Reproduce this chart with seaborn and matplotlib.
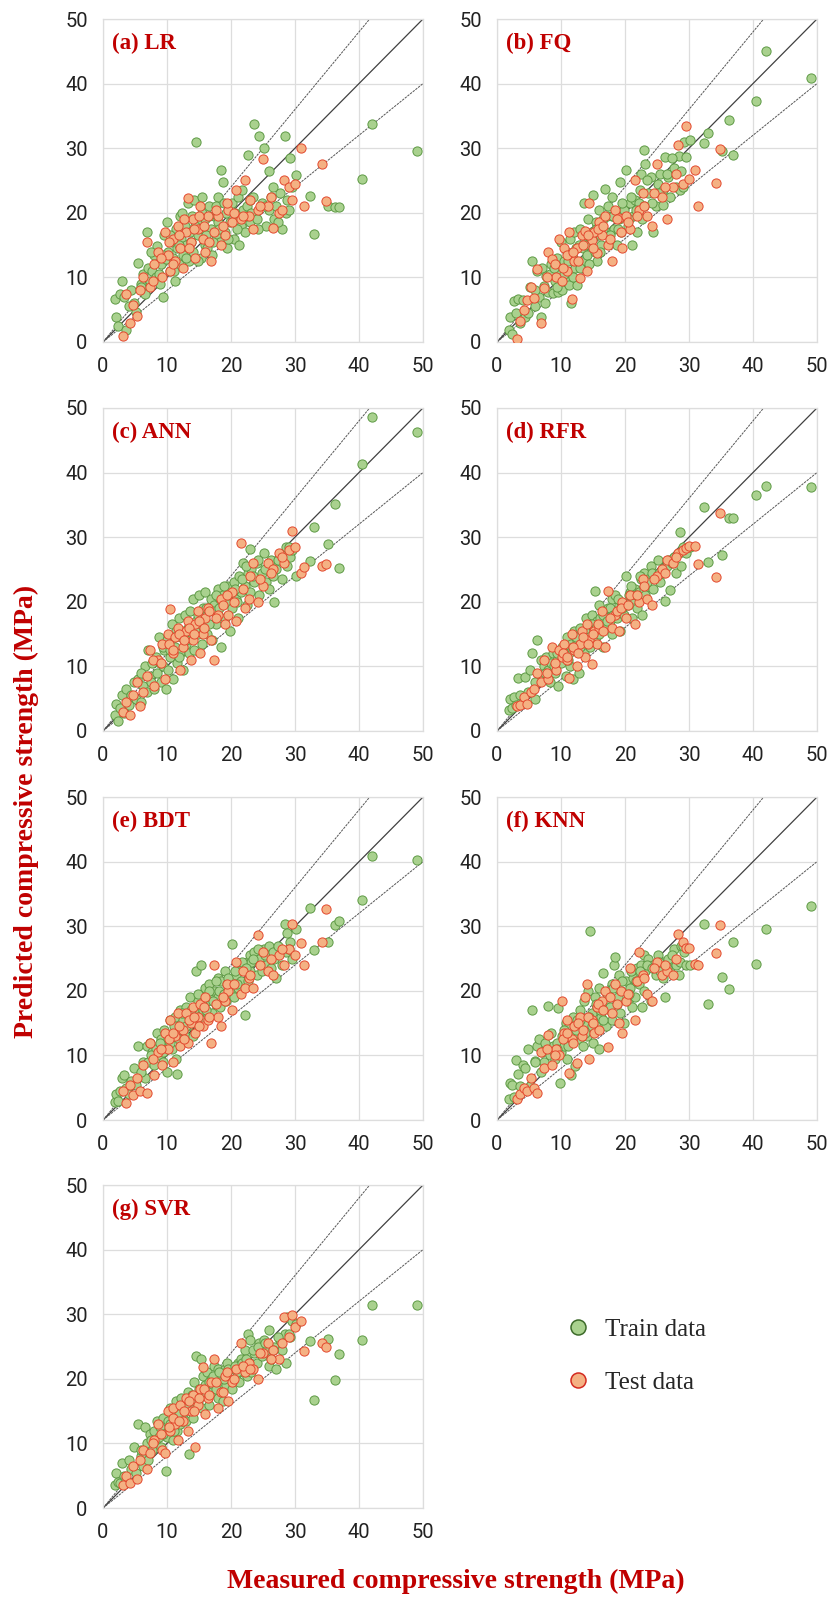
import numpy as np
import pandas as pd
import matplotlib
matplotlib.use("Agg")
import matplotlib.pyplot as plt
from matplotlib.lines import Line2D
import seaborn as sns

# Measured strength (same samples in every panel)
train_measured = [
    1.8, 2.0, 2.3, 2.7, 3.0, 3.3, 3.6, 4.0, 4.4, 4.8,
    5.2, 5.5, 5.9, 6.2, 6.6, 6.9, 7.0, 7.3, 7.7, 8.0,
    8.3, 8.5, 8.7, 9.0, 9.3, 9.6, 9.9, 10.0, 10.2, 10.5,
    10.8, 11.0, 11.3, 11.4, 11.6, 11.9, 12.0, 12.2, 12.5, 12.8,
    13.0, 13.3, 13.4, 13.6, 13.9, 14.0, 14.2, 14.5, 14.8, 15.0,
    15.3, 15.5, 15.6, 15.9, 16.0, 16.2, 16.5, 16.8, 17.1, 17.4,
    17.7, 17.9, 18.0, 18.3, 18.5, 18.7, 19.0, 19.2, 19.4, 19.8,
    20.1, 20.4, 20.8, 21.1, 21.3, 21.5, 21.8, 22.2, 22.5, 22.7,
    22.9, 23.0, 23.2, 23.6, 24.0, 24.4, 24.8, 25.1, 25.5, 25.9,
    26.0, 26.3, 26.7, 27.1, 27.6, 28.0, 28.4, 28.6, 28.8, 29.2,
    29.6, 30.1, 32.4, 33.0, 35.1, 36.3, 36.9, 40.4, 42.1, 49.0,
    6.0, 7.5, 8.9, 9.4, 10.4, 11.1, 11.8, 12.4, 12.9, 13.7,
    14.3, 14.9, 15.4, 16.1, 16.6, 17.2, 17.6, 18.2, 18.9, 19.6,
    20.6, 21.0, 21.7, 22.4, 23.4, 24.2, 25.3, 26.5, 27.4, 29.0,
]
test_measured = [
    3.2, 3.6, 4.2, 4.7, 5.3, 5.8, 6.3, 6.8, 7.4, 8.0,
    8.6, 9.2, 9.7, 10.1, 10.5, 10.9, 11.3, 11.7, 12.1, 12.5,
    12.9, 13.3, 13.7, 14.1, 14.4, 14.8, 15.2, 15.6, 16.0, 16.4,
    16.9, 17.4, 17.9, 18.4, 19.0, 19.6, 20.2, 20.8, 21.5, 22.2,
    22.8, 23.5, 24.2, 25.0, 25.8, 26.6, 27.5, 28.3, 29.0, 29.5,
    30.0, 31.0, 31.4, 34.2, 34.9,
    7.8, 9.0, 10.3, 11.0, 11.9, 12.7, 13.5, 14.2, 15.0, 15.8,
    16.6, 17.6, 18.7, 19.3, 20.5, 21.8, 23.0, 24.6, 26.2, 27.9,
]

# Predicted strength per model
lr_train = [
    6.6, 3.8, 2.5, 7.5, 9.5, 7.0, 1.8, 5.6, 8.0, 6.0,
    4.7, 12.3, 9.0, 10.5, 7.5, 17.0, 11.5, 9.5, 11.0, 13.5,
    10.0, 14.8, 10.5, 12.0, 7.0, 16.5, 12.8, 18.5, 14.0, 11.0,
    15.5, 13.0, 9.5, 17.5, 14.5, 12.0, 19.5, 16.0, 13.5, 18.0,
    15.0, 21.5, 12.5, 17.0, 19.5, 14.0, 22.0, 30.9, 16.5, 18.5,
    13.0, 20.0, 17.5, 15.0, 19.0, 14.5, 21.0, 17.5, 13.5, 19.5,
    16.5, 22.5, 18.5, 15.5, 26.6, 24.7, 17.0, 20.0, 14.5, 18.5,
    21.5, 16.0, 19.5, 22.5, 15.0, 18.0, 20.5, 17.0, 21.0, 29.0,
    18.5, 22.0, 20.0, 33.7, 19.0, 31.9, 21.5, 30.1, 18.0, 26.5,
    20.5, 22.5, 19.0, 21.0, 23.0, 17.5, 31.9, 20.0, 22.0, 28.5,
    24.0, 25.9, 22.6, 16.7, 21.0, 20.9, 20.9, 25.2, 33.8, 29.6,
    8.5, 14.0, 9.0, 13.5, 16.5, 11.0, 15.0, 20.0, 13.0, 15.5,
    18.0, 12.5, 22.5, 16.5, 19.5, 15.5, 21.0, 17.5, 21.5, 16.0,
    20.0, 17.5, 23.5, 19.5, 22.5, 17.5, 21.0, 24.0, 18.5, 20.5,
]
lr_test = [
    1.0, 7.5, 3.0, 5.8, 4.0, 8.0, 10.0, 15.5, 8.5, 12.0,
    14.0, 10.0, 17.0, 13.5, 11.0, 16.0, 12.5, 18.0, 14.5, 11.5,
    17.0, 22.3, 15.5, 19.0, 13.0, 17.5, 21.0, 16.0, 14.0, 19.5,
    12.5, 17.0, 19.5, 15.0, 16.5, 20.5, 18.5, 23.5, 19.0, 25.1,
    19.5, 17.5, 20.5, 28.3, 21.0, 17.6, 20.0, 25.0, 24.0, 22.0,
    24.5, 30.0, 21.0, 27.6, 21.8,
    9.5, 13.0, 15.5, 12.0, 16.5, 19.0, 14.5, 17.5, 19.5, 18.0,
    15.5, 20.5, 18.0, 21.5, 20.0, 19.5, 22.0, 21.0, 22.5, 20.5,
]
fq_train = [
    1.9, 3.9, 1.2, 6.3, 4.5, 6.6, 3.0, 6.5, 3.8, 4.5,
    8.5, 12.6, 5.5, 11.0, 7.0, 3.8, 11.5, 8.7, 10.2, 7.8,
    10.5, 12.0, 7.6, 9.5, 13.0, 7.8, 11.0, 15.5, 8.0, 12.5,
    9.5, 14.0, 8.8, 16.0, 6.0, 13.0, 17.0, 11.5, 8.8, 15.0,
    17.5, 12.5, 14.5, 21.5, 16.0, 13.5, 19.0, 15.5, 17.0, 22.7,
    14.0, 18.5, 12.5, 16.5, 20.5, 15.0, 19.0, 23.7, 17.0, 21.0,
    15.5, 19.5, 22.5, 17.5, 20.0, 15.0, 19.0, 24.7, 17.0, 20.5,
    26.6, 18.0, 21.5, 15.0, 19.5, 22.0, 17.0, 21.5, 26.0, 19.0,
    29.7, 21.0, 27.5, 23.0, 25.5, 17.1, 21.0, 24.5, 26.0, 21.2,
    23.5, 28.7, 25.5, 22.5, 27.0, 24.0, 28.8, 23.5, 26.5, 31.0,
    28.7, 31.3, 30.8, 32.3, 29.5, 34.4, 29.0, 37.3, 45.0, 40.8,
    8.0, 6.0, 11.5, 8.5, 10.5, 12.5, 10.0, 14.5, 11.5, 15.0,
    12.0, 16.0, 17.5, 14.0, 17.5, 19.5, 16.5, 19.5, 17.5, 21.5,
    19.0, 22.5, 20.5, 23.5, 25.0, 21.5, 23.0, 26.0, 28.5, 24.0,
]
fq_test = [
    0.4, 3.2, 5.0, 6.5, 8.5, 6.8, 11.3, 2.9, 8.3, 14.0,
    12.8, 10.0, 16.0, 9.5, 14.5, 11.0, 17.0, 6.7, 12.5, 14.5,
    9.9, 16.5, 17.2, 11.0, 21.5, 15.8, 17.0, 13.8, 18.5, 16.5,
    19.5, 15.0, 12.6, 20.5, 19.2, 14.5, 19.5, 17.5, 25.0, 20.5,
    23.0, 19.5, 18.0, 27.5, 22.5, 19.0, 24.0, 30.5, 24.5, 33.5,
    25.2, 26.6, 21.1, 24.6, 29.9,
    10.0, 12.0, 11.5, 13.5, 14.0, 12.5, 15.0, 16.5, 14.5, 17.5,
    18.0, 16.0, 19.0, 17.0, 18.5, 19.5, 21.0, 23.0, 24.0, 26.0,
]
ann_train = [
    2.5, 4.2, 1.5, 3.5, 5.5, 2.8, 6.5, 4.0, 5.5, 7.5,
    5.0, 8.0, 4.5, 7.0, 10.0, 6.0, 12.5, 8.5, 10.5, 6.5,
    11.5, 9.0, 14.5, 7.5, 10.0, 12.5, 6.5, 14.0, 9.5, 11.5,
    16.5, 8.0, 13.0, 15.5, 10.5, 17.5, 12.0, 14.5, 9.5, 18.0,
    13.5, 16.0, 12.0, 18.5, 14.5, 20.5, 12.5, 17.0, 15.0, 21.0,
    16.5, 13.5, 19.0, 17.0, 21.5, 15.0, 18.5, 20.5, 14.0, 19.5,
    16.5, 22.0, 18.0, 20.5, 13.0, 21.0, 17.5, 20.0, 22.5, 15.5,
    19.0, 23.0, 20.5, 17.5, 24.0, 21.5, 26.0, 22.5, 19.5, 24.5,
    28.1, 21.5, 25.0, 23.0, 26.0, 21.0, 24.5, 27.5, 23.0, 25.5,
    22.0, 26.5, 20.0, 25.0, 27.0, 23.5, 27.5, 28.5, 25.5, 27.0,
    28.0, 24.0, 26.3, 31.6, 29.0, 35.1, 25.2, 41.4, 48.6, 46.3,
    9.0, 7.5, 10.5, 13.0, 12.5, 14.5, 11.5, 15.5, 14.0, 16.5,
    15.5, 18.0, 17.5, 19.0, 16.5, 18.5, 21.0, 19.0, 22.5, 21.0,
    22.0, 20.0, 23.5, 25.5, 24.0, 26.5, 25.0, 24.0, 26.5, 28.5,
]
ann_test = [
    3.0, 4.5, 2.5, 5.5, 7.5, 3.8, 6.0, 8.5, 12.5, 7.0,
    11.0, 13.5, 8.0, 15.0, 18.9, 12.0, 14.5, 16.0, 9.5, 13.0,
    15.5, 17.0, 11.0, 14.0, 16.5, 18.5, 12.0, 15.0, 17.5, 19.0,
    14.0, 11.0, 18.0, 20.5, 16.5, 18.0, 21.5, 17.0, 29.1, 19.0,
    20.5, 26.0, 20.0, 22.5, 26.0, 25.0, 27.5, 26.0, 28.0, 30.9,
    28.5, 24.4, 25.4, 25.6, 25.9,
    11.0, 10.5, 13.5, 12.5, 15.0, 14.0, 16.0, 15.0, 17.0, 16.0,
    18.5, 17.5, 19.5, 21.0, 20.0, 22.0, 24.0, 23.5, 24.5, 27.0,
]
rfr_train = [
    3.3, 5.0, 3.5, 5.3, 4.0, 8.2, 5.5, 4.5, 8.3, 6.0,
    9.5, 12.0, 5.0, 14.1, 8.0, 11.0, 8.5, 10.0, 11.5, 9.5,
    7.5, 10.5, 12.0, 9.0, 11.0, 7.0, 12.5, 10.5, 13.0, 11.5,
    8.5, 14.5, 12.0, 10.0, 13.5, 8.0, 15.5, 12.5, 14.0, 9.0,
    16.0, 13.5, 15.0, 12.0, 17.5, 14.0, 16.0, 13.0, 18.0, 15.5,
    21.6, 14.5, 17.0, 19.5, 15.0, 17.5, 13.0, 18.5, 16.5, 19.0,
    17.0, 20.5, 15.0, 18.5, 21.0, 17.5, 19.5, 15.5, 20.0, 18.0,
    24.0, 19.5, 21.5, 17.5, 20.5, 22.0, 19.0, 21.5, 23.5, 18.0,
    22.0, 24.5, 21.0, 23.5, 25.5, 22.0, 24.0, 26.5, 23.0, 25.0,
    24.5, 20.1, 26.5, 21.8, 27.0, 24.5, 27.5, 30.8, 25.5, 28.0,
    27.5, 28.5, 34.7, 26.2, 27.3, 33.0, 32.9, 36.6, 37.9, 37.7,
    7.5, 9.0, 10.0, 12.0, 12.0, 11.0, 13.0, 14.5, 13.0, 15.5,
    14.5, 16.5, 16.0, 17.5, 18.0, 17.0, 19.0, 18.0, 20.5, 19.0,
    21.0, 22.5, 21.0, 24.0, 23.0, 24.5, 24.5, 25.5, 26.0, 28.5,
]
rfr_test = [
    3.8, 4.0, 5.3, 4.2, 6.0, 6.5, 9.0, 7.5, 11.0, 8.0,
    13.0, 9.5, 12.5, 11.5, 13.5, 11.0, 8.2, 15.0, 12.5, 10.0,
    13.5, 15.5, 11.5, 16.5, 14.0, 10.3, 15.5, 13.5, 16.0, 18.5,
    13.0, 21.6, 16.0, 18.0, 15.5, 20.0, 17.5, 21.0, 16.5, 20.0,
    23.5, 20.5, 19.5, 24.0, 25.0, 26.5, 26.0, 27.5, 28.0, 28.3,
    28.6, 28.7, 25.9, 23.8, 33.7,
    9.0, 10.5, 12.0, 11.5, 13.0, 12.0, 14.5, 13.5, 15.0, 16.5,
    15.5, 17.5, 18.5, 19.0, 19.5, 21.0, 22.5, 23.5, 24.5, 27.0,
]
bdt_train = [
    2.8, 4.0, 3.0, 4.5, 6.5, 7.0, 5.0, 4.0, 6.0, 8.0,
    5.5, 11.5, 7.0, 9.0, 6.5, 11.5, 9.0, 12.0, 10.5, 8.5,
    11.0, 13.5, 10.0, 12.5, 9.0, 14.0, 11.0, 7.5, 12.5, 15.5,
    11.0, 13.0, 16.0, 9.5, 7.2, 14.0, 17.0, 12.0, 15.5, 13.0,
    17.5, 14.5, 16.0, 19.0, 15.5, 13.0, 17.0, 23.1, 18.5, 16.0,
    24.0, 19.5, 17.0, 20.5, 15.5, 18.5, 21.0, 19.0, 16.5, 20.0,
    18.0, 22.0, 19.0, 17.5, 21.5, 19.5, 23.0, 18.5, 21.0, 20.0,
    27.3, 19.0, 22.5, 20.5, 24.0, 21.5, 23.5, 16.3, 24.5, 21.5,
    25.5, 23.0, 24.5, 26.0, 22.5, 25.0, 23.0, 26.5, 24.0, 25.5,
    27.0, 23.5, 25.0, 22.0, 26.5, 24.0, 30.3, 26.0, 29.0, 27.5,
    25.0, 29.5, 32.9, 26.4, 27.6, 30.2, 30.8, 34.1, 40.9, 40.2,
    7.5, 10.0, 12.0, 10.5, 12.0, 14.5, 12.5, 16.5, 14.5, 17.0,
    15.0, 19.5, 18.0, 17.0, 20.0, 18.5, 21.5, 20.0, 19.5, 22.0,
    23.0, 21.0, 24.5, 23.5, 25.0, 26.5, 25.5, 26.0, 27.0, 26.5,
]
bdt_test = [
    4.5, 2.7, 5.5, 3.8, 6.5, 4.5, 8.5, 4.2, 12.0, 7.0,
    10.5, 8.5, 13.5, 11.0, 15.5, 9.0, 13.0, 16.5, 11.5, 14.0,
    16.5, 12.0, 15.0, 17.5, 13.5, 16.0, 18.0, 14.5, 19.0, 15.5,
    12.0, 24.0, 16.0, 14.5, 18.5, 20.0, 17.0, 24.5, 19.5, 20.5,
    22.0, 20.5, 28.7, 26.0, 23.0, 22.5, 25.5, 24.0, 26.5, 30.3,
    25.5, 27.4, 24.0, 27.6, 32.7,
    9.5, 11.0, 12.5, 13.5, 14.5, 12.5, 15.5, 16.0, 14.5, 17.5,
    16.0, 18.0, 19.0, 21.0, 21.0, 23.0, 22.5, 24.0, 25.0, 26.5,
]
knn_train = [
    3.3, 5.8, 5.5, 3.5, 9.3, 7.2, 5.3, 8.5, 8.0, 11.0,
    5.2, 17.0, 9.2, 11.5, 12.5, 7.5, 10.5, 9.0, 11.0, 17.6,
    10.0, 13.5, 11.5, 9.5, 12.0, 17.4, 5.8, 10.5, 13.0, 11.5,
    15.0, 9.5, 14.5, 12.0, 7.0, 16.0, 13.5, 8.3, 15.5, 12.5,
    17.0, 14.0, 11.5, 18.5, 15.0, 13.0, 20.0, 29.3, 16.5, 12.0,
    19.0, 14.5, 17.5, 20.5, 11.0, 16.0, 22.7, 18.5, 14.5, 20.0,
    17.0, 21.0, 15.5, 24.0, 25.3, 18.0, 22.5, 16.5, 20.0, 15.0,
    21.5, 18.5, 20.5, 17.5, 22.0, 19.0, 23.5, 21.0, 24.0, 17.5,
    25.5, 20.0, 23.0, 25.0, 18.5, 24.0, 22.5, 25.5, 23.0, 24.5,
    22.0, 19.0, 25.0, 23.5, 26.5, 24.0, 22.5, 24.5, 27.0, 26.0,
    24.0, 24.0, 30.3, 18.0, 22.2, 20.3, 27.5, 24.2, 29.6, 33.1,
    9.0, 12.0, 10.5, 11.0, 14.0, 11.5, 13.0, 14.0, 15.5, 13.5,
    16.0, 14.5, 18.0, 17.0, 15.5, 19.5, 17.5, 20.5, 19.0, 21.5,
    19.5, 23.0, 21.5, 23.0, 24.0, 23.5, 24.5, 23.5, 25.5, 27.0,
]
knn_test = [
    3.3, 4.0, 5.0, 4.5, 6.5, 5.0, 4.2, 10.5, 8.0, 13.2,
    8.5, 11.0, 10.0, 18.5, 13.5, 15.5, 7.3, 12.5, 14.5, 8.8,
    16.0, 13.0, 19.0, 21.1, 9.4, 15.5, 13.5, 17.5, 14.0, 18.5,
    20.0, 11.3, 16.5, 21.0, 15.0, 13.5, 18.5, 23.5, 15.5, 26.0,
    22.5, 19.5, 18.5, 24.5, 22.5, 23.0, 22.5, 28.8, 27.5, 26.7,
    26.7, 24.2, 24.0, 25.8, 30.2,
    11.0, 10.0, 12.5, 13.5, 12.0, 15.0, 14.0, 16.0, 15.0, 18.0,
    17.0, 19.0, 18.0, 20.0, 19.5, 21.5, 22.0, 23.5, 24.0, 25.0,
]
svr_train = [
    3.5, 5.5, 4.0, 3.8, 7.0, 5.0, 4.5, 7.5, 6.0, 9.5,
    5.5, 13.0, 8.0, 6.5, 12.5, 10.0, 7.5, 11.5, 9.0, 12.0,
    10.5, 13.5, 11.0, 9.5, 14.0, 12.0, 5.7, 11.0, 13.5, 15.5,
    12.5, 10.5, 14.5, 16.5, 12.0, 15.0, 13.0, 17.0, 14.5, 16.0,
    13.5, 18.0, 8.3, 15.5, 17.5, 14.0, 19.5, 23.6, 16.5, 18.5,
    23.0, 15.5, 20.5, 17.5, 19.0, 21.0, 16.0, 20.0, 18.0, 22.0,
    19.5, 17.0, 21.5, 18.5, 20.5, 16.5, 21.5, 19.0, 22.5, 20.0,
    18.5, 21.5, 20.0, 22.5, 19.5, 23.0, 21.0, 24.5, 20.5, 27.0,
    22.5, 26.0, 21.0, 24.0, 22.5, 25.5, 23.5, 26.0, 24.5, 22.0,
    27.5, 23.0, 25.0, 21.5, 26.0, 24.5, 27.0, 22.5, 29.5, 26.5,
    29.0, 28.5, 25.9, 16.7, 26.1, 19.8, 23.8, 26.0, 31.5, 31.5,
    9.0, 10.5, 12.5, 11.5, 13.0, 12.0, 14.5, 13.5, 15.5, 17.0,
    16.5, 17.5, 18.0, 17.5, 19.5, 20.5, 18.5, 21.0, 20.0, 21.5,
    22.0, 21.0, 22.5, 23.0, 24.5, 25.0, 25.5, 24.5, 26.5, 27.0,
]
svr_test = [
    3.5, 5.0, 3.8, 6.5, 4.5, 7.5, 9.0, 6.0, 8.5, 10.5,
    13.0, 9.0, 8.5, 15.0, 12.0, 15.5, 13.0, 10.5, 16.0, 13.5,
    17.0, 12.0, 15.0, 17.5, 9.5, 16.0, 18.5, 21.9, 14.5, 17.0,
    19.5, 23.0, 15.5, 18.0, 20.5, 16.5, 19.5, 21.5, 25.5, 21.0,
    22.5, 21.5, 20.0, 24.0, 25.5, 24.5, 23.0, 29.5, 26.5, 29.9,
    28.0, 29.0, 24.3, 25.6, 25.0,
    10.0, 11.5, 12.5, 14.0, 13.5, 15.0, 16.5, 15.0, 17.0, 18.5,
    17.5, 19.5, 18.0, 21.0, 20.0, 22.0, 21.5, 24.0, 23.0, 25.5,
]

panel_titles = ["(a) LR", "(b) FQ", "(c) ANN", "(d) RFR", "(e) BDT", "(f) KNN", "(g) SVR"]
axis_ticks = [0, 10, 20, 30, 40, 50]

panels = [
    (lr_train, lr_test), (fq_train, fq_test), (ann_train, ann_test),
    (rfr_train, rfr_test), (bdt_train, bdt_test), (knn_train, knn_test),
    (svr_train, svr_test),
]

sns.set_style("white")
plt.rcParams["font.family"] = ["Roboto", "DejaVu Sans"]

RED = "#C00000"
TRAIN_FACE, TRAIN_EDGE = "#A9D18E", "#5E9A45"
TEST_FACE, TEST_EDGE = "#F4B183", "#E3492F"
SERIF = ["Liberation Serif", "DejaVu Serif"]

fig = plt.figure(figsize=(8.3, 15.98), dpi=100)

lefts = [0.1241, 0.5988]
bottoms = [0.7860, 0.5426, 0.2991, 0.0563]
w, h = 0.3855, 0.2021
guide = np.array([0.0, 50.0])

for i, (ytr, yte) in enumerate(panels):
    ax = fig.add_axes([lefts[i % 2], bottoms[i // 2], w, h])

    train_df = pd.DataFrame({"measured": train_measured, "predicted": ytr})
    test_df = pd.DataFrame({"measured": test_measured, "predicted": yte})

    # 1:1 line and +/-20% lines
    ax.plot(guide, guide, color="#404040", lw=0.9, zorder=2)
    ax.plot(guide, 1.2 * guide, color="#555555", lw=0.7, ls=(0, (2.5, 1)), zorder=2)
    ax.plot(guide, 0.8 * guide, color="#555555", lw=0.7, ls=(0, (2.5, 1)), zorder=2)

    sns.scatterplot(data=train_df, x="measured", y="predicted", ax=ax, s=44,
                    color=TRAIN_FACE, edgecolor=TRAIN_EDGE, linewidth=0.7, zorder=3)
    sns.scatterplot(data=test_df, x="measured", y="predicted", ax=ax, s=44,
                    color=TEST_FACE, edgecolor=TEST_EDGE, linewidth=0.7, zorder=4)

    ax.set_xlim(0, 50)
    ax.set_ylim(0, 50)
    ax.set_xticks(axis_ticks)
    ax.set_yticks(axis_ticks)
    ax.set_xlabel("")
    ax.set_ylabel("")
    ax.grid(True, color="#DDDDDD", lw=0.9)
    ax.set_axisbelow(True)
    for sp in ax.spines.values():
        sp.set_color("#DDDDDD")
        sp.set_linewidth(0.9)
    ax.tick_params(length=0, pad=11, labelsize=14.5, labelcolor="#222222")

    ax.text(0.028, 0.957, panel_titles[i], transform=ax.transAxes, ha="left", va="top",
            fontsize=16.5, fontweight="bold", color=RED, family=SERIF)

fig.text(0.549, 0.0105, "Measured compressive strength (MPa)", ha="center", va="center",
         fontsize=20, fontweight="bold", color=RED, family=SERIF)
fig.text(0.032, 0.492, "Predicted compressive strength (MPa)", ha="center", va="center",
         rotation=90, fontsize=20, fontweight="bold", color=RED, family=SERIF)

handles = [
    Line2D([], [], ls="", marker="o", markersize=10.8, markerfacecolor=TRAIN_FACE,
           markeredgecolor="#3D6B2A", markeredgewidth=1.1),
    Line2D([], [], ls="", marker="o", markersize=10.8, markerfacecolor=TEST_FACE,
           markeredgecolor="#D42A20", markeredgewidth=1.1),
]
fig.legend(handles, ["Train data", "Test data"], loc="center left",
           bbox_to_anchor=(0.669, 0.1514), frameon=False,
           prop={"family": SERIF, "size": 18}, handlelength=1.0,
           handletextpad=0.58, labelspacing=1.2, borderaxespad=0, borderpad=0.4)

fig.savefig("out.png", dpi=100)
